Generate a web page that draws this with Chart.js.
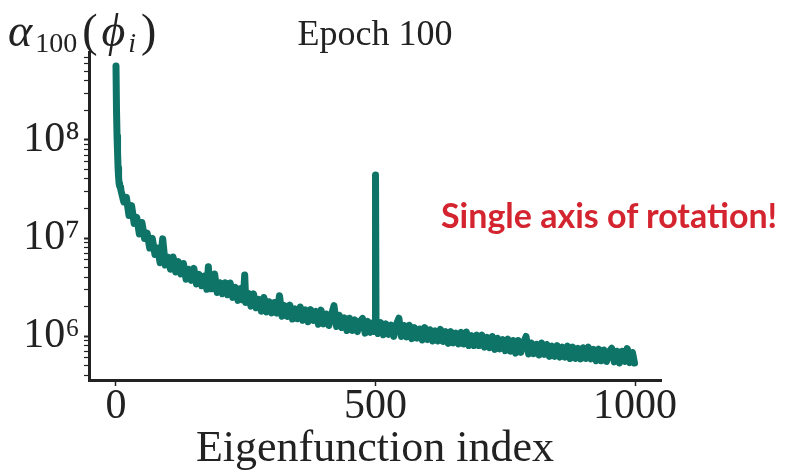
<!DOCTYPE html>
<html>
<head>
<meta charset="utf-8">
<script src="https://cdn.jsdelivr.net/npm/chart.js@4.4.1/dist/chart.umd.min.js"></script>
<style>
  html, body { margin: 0; padding: 0; background: #fff; }
  #wrap { position: relative; width: 786px; height: 476px; }
  #myChart { position: absolute; left: 0; top: 0; }
  .lbl { position: absolute; white-space: nowrap; line-height: 1; color: #222; font-family: "Liberation Serif", serif; }
  #ylab { left: 8px; top: 8px; font-size: 46px; }
  #ylab .sub { font-size: 28px; position: relative; top: 6px; margin-left: 3px; margin-right: 5px; }
  #ylab .ph { margin-left: 4px; }
  #epoch { left: 375px; top: 15px; font-size: 36px; transform: translateX(-50%); }
  #note { left: 441px; top: 198px; font-family: Lato, sans-serif; font-weight: bold; font-size: 34px; color: #d3242f; }
</style>
</head>
<body>
<div id="wrap">
  <canvas id="myChart" width="786" height="476"></canvas>
  <div class="lbl" id="ylab"><i>α</i><span class="sub">100</span>(<i class="ph">ϕ</i><span class="sub"><i>i</i></span>)</div>
  <div class="lbl" id="epoch">Epoch 100</div>
  <div class="lbl" id="note">Single axis of rotation!</div>
</div>
<script>
// eigenfunction index (x) and alpha_100 value (y)
const idx = [
  0, 1, 2, 3, 4, 5, 6, 7, 8, 9, 10,
  15, 20, 25, 30, 35, 40, 45, 50, 55, 60,
  65, 70, 75, 80, 85, 90, 95, 100, 105, 110,
  115, 120, 125, 130, 135, 140, 145, 150, 155, 160,
  165, 170, 175, 178, 180, 185, 190, 195, 200, 205,
  210, 215, 220, 225, 230, 235, 240, 245, 248, 250,
  255, 260, 265, 270, 275, 280, 285, 290, 295, 300,
  305, 310, 315, 320, 325, 330, 335, 340, 345, 350,
  355, 360, 365, 370, 375, 380, 385, 390, 395, 400,
  405, 410, 415, 420, 425, 430, 435, 440, 445, 450,
  455, 460, 465, 470, 475, 480, 485, 490, 495, 499,
  500, 501, 505, 510, 515, 520, 525, 530, 535, 540,
  545, 550, 555, 560, 565, 570, 575, 580, 585, 590,
  595, 600, 605, 610, 615, 620, 625, 630, 635, 640,
  645, 650, 655, 660, 665, 670, 675, 680, 685, 690,
  695, 700, 705, 710, 715, 720, 725, 730, 735, 740,
  745, 750, 755, 760, 765, 770, 775, 780, 785, 790,
  795, 800, 805, 810, 815, 820, 825, 830, 835, 840,
  845, 850, 855, 860, 865, 870, 875, 880, 885, 890,
  895, 900, 905, 910, 915, 920, 925, 930, 935, 940,
  945, 950, 955, 960, 965, 970, 975, 980, 985, 990,
  995, 999
];
const alpha = [
  5.7e8, 2.0e8, 1.1e8, 7.5e7, 5.2e7, 4.2e7, 3.6e7, 3.4e7, 3.3e7, 3.2e7, 3.0e7,
  2.34e7, 2.6e7, 1.7e7, 2.14e7, 1.41e7, 1.62e7, 1.1e7, 1.44e7, 9.9e6, 1.12e7,
  7.9e6, 9.9e6, 6.8e6, 7.9e6, 5.6e6, 9.8e6, 5.3e6, 6.4e6, 4.8e6, 6.4e6,
  4.5e6, 5.75e6, 4.3e6, 5.5e6, 3.8e6, 4.8e6, 3.7e6, 4.9e6, 3.4e6, 4.25e6,
  3.26e6, 4.1e6, 3.0e6, 5.1e6, 3.05e6, 3.04e6, 4.3e6, 2.78e6, 3.5e6, 2.7e6,
  3.5e6, 2.64e6, 3.48e6, 2.48e6, 3.14e6, 2.31e6, 3.05e6, 2.32e6, 4.2e6, 2.2e6,
  2.72e6, 2.02e6, 2.69e6, 1.94e6, 2.37e6, 1.79e6, 2.47e6, 1.76e6, 2.24e6, 1.72e6,
  2.2e6, 1.71e6, 2.58e6, 1.59e6, 2.04e6, 1.58e6, 2.07e6, 1.49e6, 1.89e6, 1.5e6,
  1.98e6, 1.45e6, 1.85e6, 1.4e6, 1.86e6, 1.44e6, 1.79e6, 1.32e6, 1.84e6, 1.33e6,
  1.68e6, 1.28e6, 1.62e6, 2.04e6, 1.25e6, 1.63e6, 1.22e6, 1.53e6, 1.14e6, 1.52e6,
  1.14e6, 1.46e6, 1.11e6, 1.41e6, 1.51e6, 1.07e6, 1.41e6, 1.09e6, 1.36e6, 1.11e6,
  4.4e7, 1.41e6, 1.06e6, 1.37e6, 1.03e6, 1.33e6, 1.04e6, 1.29e6, 9.9e5, 1.3e6,
  1.52e6, 9.9e5, 1.28e6, 9.8e5, 1.29e6, 9.4e5, 1.22e6, 9.5e5, 1.18e6, 9.1e5,
  1.22e6, 9.2e5, 1.16e6, 8.9e5, 1.13e6, 8.9e5, 1.17e6, 8.8e5, 1.11e6, 8.4e5,
  1.11e6, 8.5e5, 1.07e6, 8.3e5, 1.09e6, 8.3e5, 1.1e6, 8.0e5, 1.01e6, 8.0e5,
  1.02e6, 8.0e5, 1.02e6, 7.7e5, 9.7e5, 7.6e5, 9.9e5, 7.3e5, 9.5e5, 7.4e5,
  9.2e5, 7.1e5, 9.3e5, 7.0e5, 9.0e5, 6.7e5, 9.0e5, 6.8e5, 8.5e5, 9.9e5,
  6.55e5, 8.5e5, 6.6e5, 8.25e5, 6.4e5, 8.5e5, 6.5e5, 8.2e5, 6.2e5, 7.9e5,
  6.2e5, 8.0e5, 6.1e5, 7.7e5, 6.1e5, 7.9e5, 5.9e5, 7.7e5, 5.9e5, 7.5e5,
  5.85e5, 7.6e5, 5.9e5, 7.7e5, 5.85e5, 7.3e5, 5.6e5, 7.35e5, 5.6e5, 7.2e5,
  5.5e5, 6.9e5, 7.5e5, 5.45e5, 7.0e5, 5.3e5, 7.0e5, 5.5e5, 7.45e5, 5.35e5,
  6.8e5, 5.3e5
];

const xTicks = [0, 500, 1000];
const yDecades = [6, 7, 8];
const xRange = [-52, 1050];
const yRange = [3.56e5, 7.9e8];

const sup = { 5: '⁵', 6: '⁶', 7: '⁷', 8: '⁸' };
const serif = 'Liberation Serif';

const points = idx.map((v, i) => ({ x: v, y: alpha[i] }));

new Chart('myChart', {
  type: 'line',
  data: {
    datasets: [{
      data: points,
      borderColor: '#0f7468',
      borderWidth: 7,
      borderJoinStyle: 'round',
      borderCapStyle: 'round',
      pointRadius: 0,
      tension: 0,
      fill: false
    }]
  },
  options: {
    responsive: false,
    animation: false,
    layout: { padding: { left: 0, top: 52, right: 125, bottom: 0 } },
    plugins: { legend: { display: false }, tooltip: { enabled: false } },
    scales: {
      x: {
        type: 'linear',
        min: xRange[0],
        max: xRange[1],
        afterBuildTicks: s => { s.ticks = xTicks.map(v => ({ value: v })); },
        afterFit: s => { s.height = 96; },
        border: { display: true, color: '#222', width: 3 },
        grid: { drawOnChartArea: false, tickLength: 6, tickColor: '#222', tickWidth: 1.5 },
        ticks: {
          padding: 0, maxRotation: 0, autoSkip: false, color: '#222',
          font: { family: serif, size: 42, lineHeight: 1 },
          callback: v => String(v)
        },
        title: {
          display: true, text: 'Eigenfunction index', color: '#222',
          font: { family: serif, size: 44 }, padding: 0
        }
      },
      y: {
        type: 'logarithmic',
        min: yRange[0],
        max: yRange[1],
        afterBuildTicks: s => {
          const t = [];
          for (let e = 5; e <= 8; e++) {
            for (let m = 1; m < 10; m++) {
              const v = m * Math.pow(10, e);
              if (v >= s.min && v <= s.max) t.push({ value: v, major: m === 1 });
            }
          }
          s.ticks = t;
        },
        afterFit: s => { s.width = 89; },
        border: { display: true, color: '#222', width: 3 },
        grid: {
          drawOnChartArea: false, tickLength: 5, tickColor: '#222',
          tickWidth: c => (c.tick && c.tick.major ? 2 : 1.2)
        },
        ticks: {
          autoSkip: false, padding: 4, color: '#222',
          font: { family: serif, size: 42, lineHeight: 1 },
          callback: v => {
            const e = Math.round(Math.log10(v));
            if (Math.abs(Math.log10(v) - e) > 1e-6 || !yDecades.includes(e)) return '';
            return '10' + sup[e];
          }
        }
      }
    }
  }
});
</script>
</body>
</html>
